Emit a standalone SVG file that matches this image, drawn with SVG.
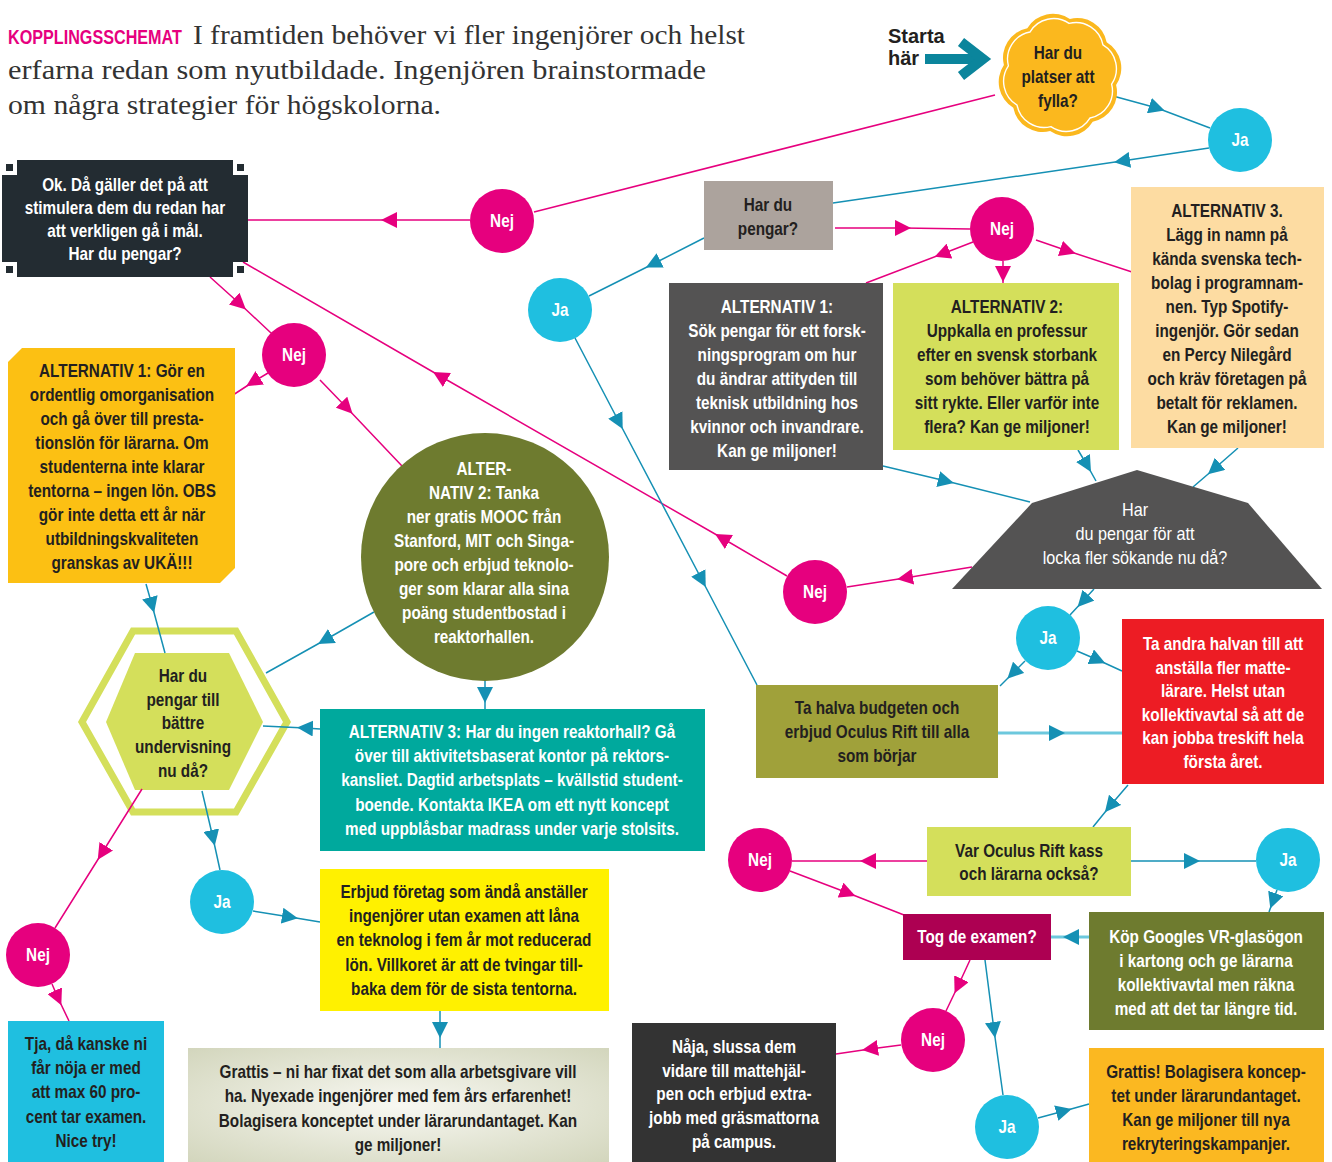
<svg xmlns="http://www.w3.org/2000/svg" width="1332" height="1162" viewBox="0 0 1332 1162">
<defs>
<style>
.t{font-family:"Liberation Sans",Arial,sans-serif;font-weight:700;font-size:18px;text-anchor:middle}
.r{font-weight:400}
.w{fill:#ffffff}
.d{fill:#231f20}
.lp{fill:none;stroke:#e6007e;stroke-width:1.5;marker-mid:url(#ap)}
.lp0{fill:none;stroke:#e6007e;stroke-width:1.5}
.lt{fill:none;stroke:#1590b4;stroke-width:1.5;marker-mid:url(#at)}
.lt2{fill:none;stroke:#6cc8dd;stroke-width:3;marker-mid:url(#at)}
.nej{fill:#e6007e}
.ja{fill:#1fbfe0}
</style>
<marker id="ap" viewBox="0 0 16 16" refX="8" refY="8" markerWidth="16" markerHeight="16" markerUnits="userSpaceOnUse" orient="auto"><path d="M0,0L16,8L0,16Z" fill="#e6007e"/></marker>
<marker id="at" viewBox="0 0 16 16" refX="8" refY="8" markerWidth="16" markerHeight="16" markerUnits="userSpaceOnUse" orient="auto"><path d="M0,0L16,8L0,16Z" fill="#1590b4"/></marker>
<radialGradient id="gg" cx="50%" cy="50%" r="70%"><stop offset="0" stop-color="#f8f8f2"/><stop offset="1" stop-color="#d3d6bd"/></radialGradient>
<path id="blob" d="M1116.1,84.9 A30,30 0 0 1 1092.7,121.7 A30,30 0 0 1 1050.1,131.1 A30,30 0 0 1 1013.3,107.7 A30,30 0 0 1 1003.9,65.1 A30,30 0 0 1 1027.3,28.3 A30,30 0 0 1 1069.9,18.9 A30,30 0 0 1 1106.7,42.3 A30,30 0 0 1 1116.1,84.9 Z"/>
</defs>
<rect width="1332" height="1162" fill="#ffffff"/>

<g id="intro">
<text transform="matrix(.77 0 0 1 8 0)" x="0" y="44" style="font-family:'Liberation Sans',Arial,sans-serif;font-weight:700;font-size:21px" fill="#e6007e">KOPPLINGSSCHEMAT</text>
<g style="font-family:'Liberation Serif','Times New Roman',serif;font-size:27px" fill="#333333">
<text x="193" y="44" textLength="552" lengthAdjust="spacingAndGlyphs">I framtiden behöver vi fler ingenjörer och helst</text>
<text x="8" y="79" textLength="698" lengthAdjust="spacingAndGlyphs">erfarna redan som nyutbildade. Ingenjören brainstormade</text>
<text x="8" y="114" textLength="433" lengthAdjust="spacingAndGlyphs">om några strategier för högskolorna.</text>
</g>
</g>

<g id="hexagon">
<polygon points="82,722 133,631 236,631 287,722 236,812 133,812" fill="#ffffff" stroke="#d4df5b" stroke-width="7"/>
<polygon points="106,722 135,653 229,653 263,722 229,790 135,790" fill="#d4df5b"/>
<text class="t d" transform="matrix(.85 0 0 1 183 0)"><tspan x="0" y="682">Har du</tspan><tspan x="0" y="706">pengar till</tspan><tspan x="0" y="729">bättre</tspan><tspan x="0" y="753">undervisning</tspan><tspan x="0" y="777">nu då?</tspan></text>
</g>

<g id="connectors">
<path class="lt" d="M1113,96 L1157,108 L1210,128"/>
<path class="lt" d="M1209,148 L1122,161 L833,203"/>
<path class="lp0" d="M995,95 L534,212"/>
<path class="lp" d="M470,220 L389,220 L248,220"/>
<path class="lp" d="M210,277 L240,304 L271,333"/>
<path class="lp" d="M268,373 L253,382 L233,395"/>
<path class="lp" d="M320,380 L347,408 L402,466"/>
<path class="lp" d="M787,576 L722,538 L440,376 L243,262"/>
<path class="lp" d="M972,567 L905,578 L847,587"/>
<path class="lt" d="M146,584 L152,605 L165,653"/>
<path class="lt" d="M374,612 L325,640 L266,673"/>
<path class="lt" d="M485,681 L485,695 L485,709"/>
<path class="lt" d="M320,729 L305,728 L263,726"/>
<path class="lt" d="M202,791 L213,838 L220,870"/>
<path class="lp" d="M142,789 L102,853 L55,928"/>
<path class="lp" d="M52,984 L58,998 L69,1021"/>
<path class="lt" d="M253,911 L290,917 L320,922"/>
<path class="lt" d="M440,1011 L440,1030 L440,1048"/>
<path class="lp" d="M835,228 L903,228 L970,229"/>
<path class="lt" d="M704,238 L653,264 L589,296"/>
<path class="lt" d="M575,338 L619,422 L702,580 L757,685"/>
<path class="lp" d="M973,242 L942,254 L866,283"/>
<path class="lp" d="M1003,261 L1003,274 L1003,283"/>
<path class="lp" d="M1036,240 L1068,251 L1132,272"/>
<path class="lt" d="M883,466 L946,481 L1030,502"/>
<path class="lt" d="M1078,450 L1087,465 L1096,481"/>
<path class="lt" d="M1238,448 L1214,469 L1193,487"/>
<path class="lt" d="M1094,589 L1083,601 L1070,615"/>
<path class="lt" d="M1025,661 L1013,673 L1000,686"/>
<path class="lt" d="M1077,651 L1098,660 L1122,671"/>
<path class="lt2" d="M998,733 L1057,733 L1122,733"/>
<path class="lt" d="M1128,785 L1110,806 L1093,827"/>
<path class="lp" d="M927,861 L868,861 L792,861"/>
<path class="lt" d="M1131,861 L1192,861 L1256,861"/>
<path class="lp" d="M790,871 L848,893 L904,915"/>
<path class="lt" d="M1277,890 L1273,901 L1269,912"/>
<path class="lt2" d="M1089,937 L1071,937 L1051,937"/>
<path class="lp" d="M970,960 L958,986 L946,1011"/>
<path class="lt" d="M985,960 L994,1030 L1003,1095"/>
<path class="lp" d="M901,1045 L870,1049 L836,1054"/>
<path class="lt" d="M1038,1118 L1064,1111 L1089,1104"/>
</g>

<g id="starta">
<text class="d" style="font-family:'Liberation Sans',Arial,sans-serif;font-weight:700;font-size:20px"><tspan x="888" y="43">Starta</tspan><tspan x="888" y="65">här</tspan></text>
<rect x="925" y="54" width="52" height="10" fill="#0b859c"/>
<polyline points="961,42 983,59 961,76" fill="none" stroke="#0b859c" stroke-width="10" stroke-miterlimit="10"/>
</g>

<g id="platser">
<use href="#blob" fill="#fbb81e"/>
<use href="#blob" transform="matrix(.92 0 0 .92 84.8 6)" fill="none" stroke="#ffffff" stroke-width="1.5"/>
<text class="t d" transform="matrix(.85 0 0 1 1058 0)"><tspan x="0" y="59">Har du</tspan><tspan x="0" y="83">platser att</tspan><tspan x="0" y="107">fylla?</tspan></text>
</g>

<g id="ja1"><circle class="ja" cx="1240" cy="140" r="32"/><text class="t w" transform="matrix(.85 0 0 1 1240 0)" x="0" y="146">Ja</text></g>
<g id="nej1"><circle class="nej" cx="502" cy="221" r="32"/><text class="t w" transform="matrix(.85 0 0 1 502 0)" x="0" y="227">Nej</text></g>

<g id="okbox">
<rect x="17" y="160" width="216" height="117" fill="#232c32"/>
<rect x="2" y="175" width="246" height="87" fill="#232c32"/>
<rect x="6" y="164" width="7" height="7" fill="#232c32"/>
<rect x="237" y="164" width="7" height="7" fill="#232c32"/>
<rect x="6" y="266" width="7" height="7" fill="#232c32"/>
<rect x="237" y="266" width="7" height="7" fill="#232c32"/>
<text class="t w" transform="matrix(.85 0 0 1 125 0)"><tspan x="0" y="191">Ok. Då gäller det på att</tspan><tspan x="0" y="214">stimulera dem du redan har</tspan><tspan x="0" y="237">att verkligen gå i mål.</tspan><tspan x="0" y="260">Har du pengar?</tspan></text>
</g>

<g id="nej2"><circle class="nej" cx="294" cy="355" r="32"/><text class="t w" transform="matrix(.85 0 0 1 294 0)" x="0" y="361">Nej</text></g>

<g id="alt1-left">
<polygon points="22,348 235,348 235,568 220,583 8,583 8,362" fill="#fcc013"/>
<text class="t d" transform="matrix(.85 0 0 1 122 0)"><tspan x="0" y="377">ALTERNATIV 1: Gör en</tspan><tspan x="0" y="401">ordentlig omorganisation</tspan><tspan x="0" y="425">och gå över till presta-</tspan><tspan x="0" y="449">tionslön för lärarna. Om</tspan><tspan x="0" y="473">studenterna inte klarar</tspan><tspan x="0" y="497">tentorna – ingen lön. OBS</tspan><tspan x="0" y="521">gör inte detta ett år när</tspan><tspan x="0" y="545">utbildningskvaliteten</tspan><tspan x="0" y="569">granskas av UKÄ!!!</tspan></text>
</g>

<g id="alt2-circle">
<circle cx="485" cy="557" r="124" fill="#6e7b2f"/>
<text class="t w" transform="matrix(.85 0 0 1 484 0)"><tspan x="0" y="475">ALTER-</tspan><tspan x="0" y="499">NATIV 2: Tanka</tspan><tspan x="0" y="523">ner gratis MOOC från</tspan><tspan x="0" y="547">Stanford, MIT och Singa-</tspan><tspan x="0" y="571">pore och erbjud teknolo-</tspan><tspan x="0" y="595">ger som klarar alla sina</tspan><tspan x="0" y="619">poäng studentbostad i</tspan><tspan x="0" y="643">reaktorhallen.</tspan></text>
</g>

<g id="alt3-teal">
<rect x="320" y="709" width="385" height="142" fill="#00a99d"/>
<text class="t w" transform="matrix(.85 0 0 1 512 0)"><tspan x="0" y="738">ALTERNATIV 3: Har du ingen reaktorhall? Gå</tspan><tspan x="0" y="762">över till aktivitetsbaserat kontor på rektors-</tspan><tspan x="0" y="786">kansliet. Dagtid arbetsplats – kvällstid student-</tspan><tspan x="0" y="811">boende. Kontakta IKEA  om ett nytt koncept</tspan><tspan x="0" y="835">med uppblåsbar madrass under varje stolsits.</tspan></text>
</g>

<g id="ja4"><circle class="ja" cx="222" cy="902" r="32"/><text class="t w" transform="matrix(.85 0 0 1 222 0)" x="0" y="908">Ja</text></g>

<g id="erbjud">
<rect x="320" y="869" width="289" height="142" fill="#fff100"/>
<text class="t d" transform="matrix(.85 0 0 1 464 0)"><tspan x="0" y="898">Erbjud företag som ändå anställer</tspan><tspan x="0" y="922">ingenjörer utan examen att låna</tspan><tspan x="0" y="946">en teknolog i fem år mot reducerad</tspan><tspan x="0" y="971">lön. Villkoret är att de tvingar till-</tspan><tspan x="0" y="995">baka dem för de sista tentorna.</tspan></text>
</g>

<g id="grattis1">
<rect x="188" y="1048" width="421" height="114" fill="url(#gg)"/>
<text class="t d" transform="matrix(.85 0 0 1 398 0)"><tspan x="0" y="1078">Grattis – ni har fixat det som alla arbetsgivare vill</tspan><tspan x="0" y="1102">ha. Nyexade ingenjörer med fem års erfarenhet!</tspan><tspan x="0" y="1127">Bolagisera konceptet under lärarundantaget. Kan</tspan><tspan x="0" y="1151">ge miljoner!</tspan></text>
</g>

<g id="nej5"><circle class="nej" cx="38" cy="955" r="32"/><text class="t w" transform="matrix(.85 0 0 1 38 0)" x="0" y="961">Nej</text></g>

<g id="tja">
<rect x="8" y="1021" width="156" height="141" fill="#1fbfe0"/>
<text class="t d" transform="matrix(.85 0 0 1 86 0)"><tspan x="0" y="1050">Tja, då kanske ni</tspan><tspan x="0" y="1074">får nöja er med</tspan><tspan x="0" y="1098">att max 60 pro-</tspan><tspan x="0" y="1123">cent tar examen.</tspan><tspan x="0" y="1147">Nice try!</tspan></text>
</g>

<g id="pengar-taupe">
<rect x="704" y="181" width="129" height="69" fill="#aca39d"/>
<text class="t d" transform="matrix(.85 0 0 1 768 0)"><tspan x="0" y="211">Har du</tspan><tspan x="0" y="235">pengar?</tspan></text>
</g>

<g id="ja2"><circle class="ja" cx="560" cy="310" r="32"/><text class="t w" transform="matrix(.85 0 0 1 560 0)" x="0" y="316">Ja</text></g>
<g id="nej3"><circle class="nej" cx="1002" cy="229" r="32"/><text class="t w" transform="matrix(.85 0 0 1 1002 0)" x="0" y="235">Nej</text></g>

<g id="alt1-grey">
<rect x="669" y="283" width="214" height="187" fill="#545353"/>
<text class="t w" transform="matrix(.85 0 0 1 777 0)"><tspan x="0" y="313">ALTERNATIV 1:</tspan><tspan x="0" y="337">Sök pengar för ett forsk-</tspan><tspan x="0" y="361">ningsprogram om hur</tspan><tspan x="0" y="385">du ändrar attityden till</tspan><tspan x="0" y="409">teknisk utbildning hos</tspan><tspan x="0" y="433">kvinnor och invandrare.</tspan><tspan x="0" y="457">Kan ge miljoner!</tspan></text>
</g>

<g id="alt2-lime">
<rect x="893" y="283" width="226" height="167" fill="#d4df5b"/>
<text class="t d" transform="matrix(.85 0 0 1 1007 0)"><tspan x="0" y="313">ALTERNATIV 2:</tspan><tspan x="0" y="337">Uppkalla en professur</tspan><tspan x="0" y="361">efter en svensk storbank</tspan><tspan x="0" y="385">som behöver bättra på</tspan><tspan x="0" y="409">sitt rykte. Eller varför inte</tspan><tspan x="0" y="433">flera? Kan ge miljoner!</tspan></text>
</g>

<g id="alt3-peach">
<rect x="1131" y="187" width="193" height="261" fill="#fddca2"/>
<text class="t d" transform="matrix(.85 0 0 1 1227 0)"><tspan x="0" y="217">ALTERNATIV 3.</tspan><tspan x="0" y="241">Lägg in namn på</tspan><tspan x="0" y="265">kända svenska tech-</tspan><tspan x="0" y="289">bolag i programnam-</tspan><tspan x="0" y="313">nen. Typ Spotify-</tspan><tspan x="0" y="337">ingenjör. Gör sedan</tspan><tspan x="0" y="361">en Percy Nilegård</tspan><tspan x="0" y="385">och kräv företagen på</tspan><tspan x="0" y="409">betalt för reklamen.</tspan><tspan x="0" y="433">Kan ge miljoner!</tspan></text>
</g>

<g id="locka">
<polygon points="1137,470 1032,503 952,589 1322,589 1248,503" fill="#545353"/>
<text class="t r w" transform="matrix(.9 0 0 1 1135 0)"><tspan x="0" y="516">Har</tspan><tspan x="0" y="540">du pengar för att</tspan><tspan x="0" y="564">locka fler sökande nu då?</tspan></text>
</g>

<g id="nej4"><circle class="nej" cx="815" cy="592" r="32"/><text class="t w" transform="matrix(.85 0 0 1 815 0)" x="0" y="598">Nej</text></g>
<g id="ja3"><circle class="ja" cx="1048" cy="638" r="32"/><text class="t w" transform="matrix(.85 0 0 1 1048 0)" x="0" y="644">Ja</text></g>

<g id="halva">
<rect x="756" y="685" width="242" height="93" fill="#a0a13a"/>
<text class="t d" transform="matrix(.85 0 0 1 877 0)"><tspan x="0" y="714">Ta halva budgeten och</tspan><tspan x="0" y="738">erbjud Oculus Rift till alla</tspan><tspan x="0" y="762">som börjar</tspan></text>
</g>

<g id="andra-halvan">
<rect x="1122" y="619" width="202" height="165" fill="#ed1c24"/>
<text class="t w" transform="matrix(.85 0 0 1 1223 0)"><tspan x="0" y="650">Ta andra halvan till att</tspan><tspan x="0" y="674">anställa fler matte-</tspan><tspan x="0" y="697">lärare. Helst utan</tspan><tspan x="0" y="721">kollektivavtal så att de</tspan><tspan x="0" y="744">kan jobba treskift hela</tspan><tspan x="0" y="768">första året.</tspan></text>
</g>

<g id="kass">
<rect x="927" y="827" width="204" height="69" fill="#d4df5b"/>
<text class="t d" transform="matrix(.85 0 0 1 1029 0)"><tspan x="0" y="857">Var Oculus Rift kass</tspan><tspan x="0" y="880">och lärarna också?</tspan></text>
</g>

<g id="nej6"><circle class="nej" cx="760" cy="860" r="32"/><text class="t w" transform="matrix(.85 0 0 1 760 0)" x="0" y="866">Nej</text></g>
<g id="ja5"><circle class="ja" cx="1288" cy="860" r="32"/><text class="t w" transform="matrix(.85 0 0 1 1288 0)" x="0" y="866">Ja</text></g>

<g id="tog">
<rect x="903" y="914" width="148" height="46" fill="#ad0052"/>
<text class="t w" transform="matrix(.85 0 0 1 977 0)" x="0" y="943">Tog de examen?</text>
</g>

<g id="googles">
<rect x="1089" y="912" width="235" height="118" fill="#6e7b2f"/>
<text class="t w" transform="matrix(.85 0 0 1 1206 0)"><tspan x="0" y="943">Köp Googles VR-glasögon</tspan><tspan x="0" y="967">i kartong och ge lärarna</tspan><tspan x="0" y="991">kollektivavtal men räkna</tspan><tspan x="0" y="1015">med att det tar längre tid.</tspan></text>
</g>

<g id="nej7"><circle class="nej" cx="933" cy="1040" r="32"/><text class="t w" transform="matrix(.85 0 0 1 933 0)" x="0" y="1046">Nej</text></g>
<g id="ja6"><circle class="ja" cx="1007" cy="1127" r="32"/><text class="t w" transform="matrix(.85 0 0 1 1007 0)" x="0" y="1133">Ja</text></g>

<g id="naja">
<rect x="632" y="1023" width="204" height="139" fill="#333333"/>
<text class="t w" transform="matrix(.85 0 0 1 734 0)"><tspan x="0" y="1053">Nåja, slussa dem</tspan><tspan x="0" y="1077">vidare till mattehjäl-</tspan><tspan x="0" y="1100">pen och erbjud extra-</tspan><tspan x="0" y="1124">jobb med gräsmattorna</tspan><tspan x="0" y="1148">på campus.</tspan></text>
</g>

<g id="grattis2">
<rect x="1089" y="1048" width="235" height="114" fill="#fbb821"/>
<text class="t d" transform="matrix(.85 0 0 1 1206 0)"><tspan x="0" y="1078">Grattis! Bolagisera koncep-</tspan><tspan x="0" y="1102">tet under lärarundantaget.</tspan><tspan x="0" y="1126">Kan ge miljoner till nya</tspan><tspan x="0" y="1150">rekryteringskampanjer.</tspan></text>
</g>
</svg>
